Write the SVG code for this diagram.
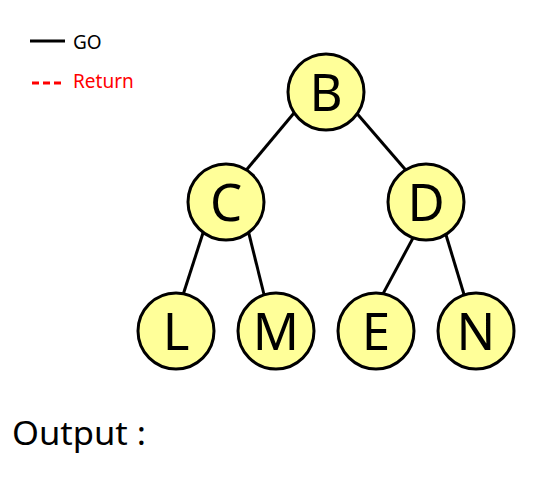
<svg xmlns="http://www.w3.org/2000/svg" width="550" height="500" viewBox="0 0 550 500">
<style>
.node circle{fill:#ffff99;stroke:#000;stroke-width:3}
.node text{font-family:"Noto Sans","Open Sans",sans-serif;font-size:51px;fill:#000;text-anchor:middle}
.edge{stroke:#000;stroke-width:3}
.lg{font-family:"Noto Sans","Open Sans",sans-serif;font-size:19px}
</style>
<rect width="550" height="500" fill="#fff"/>
<g id="legend">
<line x1="30" y1="41" x2="65" y2="41" stroke="#000" stroke-width="3"/>
<text class="lg" x="73" y="49" fill="#000">GO</text>
<line x1="32" y1="83" x2="65" y2="83" stroke="#f00" stroke-width="3" stroke-dasharray="7,4"/>
<text class="lg" x="73" y="88" fill="#f00">Return</text>
</g>
<g id="connectors">
<line class="edge" x1="295.5" y1="111.2" x2="245.1" y2="171.5"/>
<line class="edge" x1="355" y1="111.2" x2="408.3" y2="173.1"/>
<line class="edge" x1="204.2" y1="229.2" x2="182.5" y2="296.5"/>
<line class="edge" x1="247.8" y1="229.1" x2="264.5" y2="296.5"/>
<line class="edge" x1="414.7" y1="234.9" x2="381.6" y2="296.4"/>
<line class="edge" x1="445.2" y1="232.2" x2="464.7" y2="296.8"/>
</g>
<g id="node-B" class="node"><circle cx="326" cy="92" r="38"/><text x="326" y="110.5">B</text></g>
<g id="node-C" class="node"><circle cx="226" cy="202" r="38"/><text x="226" y="220.5">C</text></g>
<g id="node-D" class="node"><circle cx="426" cy="202" r="38"/><text x="426" y="220.5">D</text></g>
<g id="node-L" class="node"><circle cx="176" cy="331" r="38"/><text x="176" y="349.5">L</text></g>
<g id="node-M" class="node"><circle cx="276" cy="331" r="38"/><text x="276" y="349.5">M</text></g>
<g id="node-E" class="node"><circle cx="376" cy="331" r="38"/><text x="376" y="349.5">E</text></g>
<g id="node-N" class="node"><circle cx="476" cy="331" r="38"/><text x="476" y="349.5">N</text></g>
<text x="12" y="445" font-family="Noto Sans, Open Sans, sans-serif" font-size="32" fill="#000" textLength="134" lengthAdjust="spacingAndGlyphs">Output :</text>
</svg>
